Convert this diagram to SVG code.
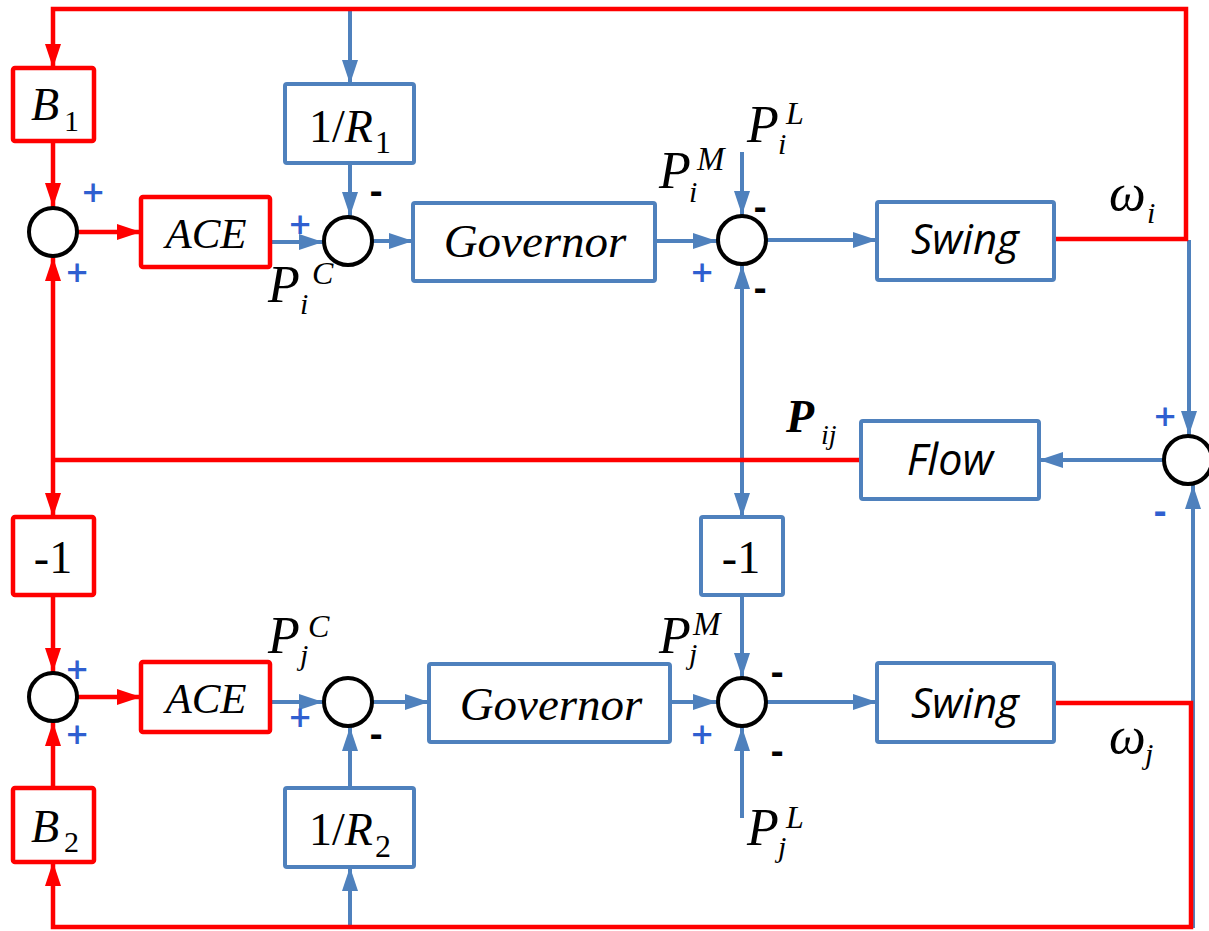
<svg xmlns="http://www.w3.org/2000/svg" width="1209" height="931" viewBox="0 0 1209 931">
<style>
.bb{fill:#fff;stroke:#4F81BD;stroke-width:4}
.rb{fill:#fff;stroke:#FF0000;stroke-width:4.5}
.sum{fill:#fff;stroke:#000;stroke-width:4}
.bl{fill:none;stroke:#4F81BD;stroke-width:4}
.rl{fill:none;stroke:#FF0000;stroke-width:4.5}
.serif{font-family:"Liberation Serif","Times New Roman",serif;fill:#000}
.it{font-style:italic}
.sans{font-family:"Open Sans","Noto Sans",sans-serif;font-style:italic;fill:#000}
.pl{font-family:"Open Sans","Liberation Sans",sans-serif;font-size:38px;font-weight:600;fill:#2F5FD0;text-anchor:middle}
.mi{font-family:"Open Sans","Liberation Sans",sans-serif;font-size:38px;font-weight:bold;fill:#000;text-anchor:middle}
.mib{font-family:"Open Sans","Liberation Sans",sans-serif;font-size:38px;font-weight:bold;fill:#2F5FD0;text-anchor:middle}
.mid{text-anchor:middle}
</style>
<defs>
<marker id="ab" markerUnits="userSpaceOnUse" markerWidth="25" markerHeight="17" refX="24" refY="8" orient="auto-start-reverse"><path d="M0,0 L24,8 L0,16 z" fill="#4F81BD"/></marker>
<marker id="ar" markerUnits="userSpaceOnUse" markerWidth="25" markerHeight="17" refX="24" refY="8" orient="auto-start-reverse"><path d="M0,0 L24,8 L0,16 z" fill="#FF0000"/></marker>
</defs>
<g id="connectors">
<path class="bl" d="M350,11 V84" marker-end="url(#ab)"/>
<path class="bl" d="M350,163 V216" marker-end="url(#ab)"/>
<path class="bl" d="M270,242 H323" marker-end="url(#ab)"/>
<path class="bl" d="M372,241 H413" marker-end="url(#ab)"/>
<path class="bl" d="M655,241 H717" marker-end="url(#ab)"/>
<path class="bl" d="M742,152 V215" marker-end="url(#ab)"/>
<path class="bl" d="M766,240 H877" marker-end="url(#ab)"/>
<path class="bl" d="M1189,240 V435" marker-end="url(#ab)"/>
<path class="bl" d="M1164,460 H1039" marker-end="url(#ab)"/>
<path class="bl" d="M742,265 V517" marker-start="url(#ab)" marker-end="url(#ab)"/>
<path class="bl" d="M742,595 V677" marker-end="url(#ab)"/>
<path class="bl" d="M270,702 H323" marker-end="url(#ab)"/>
<path class="bl" d="M372,702 H429" marker-end="url(#ab)"/>
<path class="bl" d="M670,702 H717" marker-end="url(#ab)"/>
<path class="bl" d="M766,702 H877" marker-end="url(#ab)"/>
<path class="bl" d="M742,818 V727" marker-end="url(#ab)"/>
<path class="bl" d="M350,788 V727" marker-end="url(#ab)"/>
<path class="bl" d="M350,927 V867" marker-end="url(#ab)"/>
<path class="bl" d="M1193,928 V485" marker-end="url(#ab)"/>
<path class="rl" d="M1055,239 H1186 V9 H53 V68" marker-end="url(#ar)"/>
<path class="rl" d="M53,141 V207" marker-end="url(#ar)"/>
<path class="rl" d="M78,232 H141" marker-end="url(#ar)"/>
<path class="rl" d="M861,460 H53"/>
<path class="rl" d="M53,460 V257" marker-end="url(#ar)"/>
<path class="rl" d="M53,460 V517" marker-end="url(#ar)"/>
<path class="rl" d="M53,595 V672" marker-end="url(#ar)"/>
<path class="rl" d="M78,697 H141" marker-end="url(#ar)"/>
<path class="rl" d="M1055,703 H1191 V927 H53 V862" marker-end="url(#ar)"/>
<path class="rl" d="M53,788 V722" marker-end="url(#ar)"/>
</g>
<g id="B1"><rect class="rb" x="13" y="68" width="81" height="73" rx="2"/><text class="serif it" x="31" y="120" font-size="46">B</text><text class="serif" x="64" y="131" font-size="30">1</text></g>
<g id="R1"><rect class="bb" x="285" y="84" width="129" height="79" rx="2"/><text class="serif" x="309" y="142" font-size="46">1/<tspan class="it">R</tspan></text><text class="serif" x="375" y="153" font-size="32">1</text></g>
<g id="ACE1"><rect class="rb" x="141" y="197" width="129" height="70" rx="2"/><text class="serif it mid" x="206" y="248" font-size="43">ACE</text></g>
<g id="Gov1"><rect class="bb" x="413" y="203" width="242" height="78" rx="2"/><text class="serif it mid" x="535" y="257" font-size="47">Governor</text></g>
<g id="Swing1"><rect class="bb" x="877" y="202" width="177" height="78" rx="2"/><text class="sans mid" x="965" y="254" font-size="42">Swing</text></g>
<g id="Flow"><rect class="bb" x="861" y="421" width="178" height="78" rx="2"/><text class="sans mid" x="950" y="475" font-size="43">Flow</text></g>
<g id="N1a"><rect class="rb" x="13" y="517" width="81" height="78" rx="2"/><text class="serif mid" x="53" y="573" font-size="46">-1</text></g>
<g id="N1b"><rect class="bb" x="701" y="517" width="82" height="78" rx="2"/><text class="serif mid" x="741" y="573" font-size="46">-1</text></g>
<g id="ACE2"><rect class="rb" x="141" y="662" width="129" height="70" rx="2"/><text class="serif it mid" x="206" y="713" font-size="43">ACE</text></g>
<g id="Gov2"><rect class="bb" x="429" y="664" width="241" height="78" rx="2"/><text class="serif it mid" x="551" y="720" font-size="47">Governor</text></g>
<g id="Swing2"><rect class="bb" x="877" y="663" width="177" height="79" rx="2"/><text class="sans mid" x="965" y="718" font-size="42">Swing</text></g>
<g id="B2"><rect class="rb" x="13" y="788" width="81" height="74" rx="2"/><text class="serif it" x="31" y="842" font-size="46">B</text><text class="serif" x="64" y="852" font-size="30">2</text></g>
<g id="R2"><rect class="bb" x="285" y="788" width="129" height="79" rx="2"/><text class="serif" x="309" y="845" font-size="46">1/<tspan class="it">R</tspan></text><text class="serif" x="375" y="857" font-size="32">2</text></g>
<g id="S1"><circle class="sum" cx="53" cy="232" r="24"/></g>
<g id="S2"><circle class="sum" cx="348" cy="241" r="24"/></g>
<g id="S3"><circle class="sum" cx="742" cy="240" r="24"/></g>
<g id="S4"><circle class="sum" cx="1188" cy="460" r="24"/></g>
<g id="S5"><circle class="sum" cx="53" cy="697" r="24"/></g>
<g id="S6"><circle class="sum" cx="348" cy="702" r="24"/></g>
<g id="S7"><circle class="sum" cx="742" cy="702" r="24"/></g>
<g id="signs">
<text class="pl" x="93" y="206">+</text>
<text class="pl" x="77" y="286">+</text>
<text class="pl" x="300" y="238">+</text>
<text class="mi" x="376" y="204">-</text>
<text class="mi" x="760" y="220">-</text>
<text class="pl" x="702" y="286">+</text>
<text class="mi" x="760" y="301">-</text>
<text class="pl" x="1165" y="430">+</text>
<text class="mib" x="1160" y="524">-</text>
<text class="pl" x="77" y="683">+</text>
<text class="pl" x="77" y="748">+</text>
<text class="pl" x="300" y="731">+</text>
<text class="mi" x="376" y="747">-</text>
<text class="mi" x="777" y="685">-</text>
<text class="pl" x="702" y="748">+</text>
<text class="mi" x="777" y="764">-</text>
</g>
<g id="labels" class="serif it">
<text x="268" y="302" font-size="52">P</text><text x="312" y="284" font-size="32">C</text><text x="300" y="314" font-size="30">i</text>
<text x="659" y="188" font-size="52">P</text><text x="697" y="170" font-size="33">M</text><text x="689" y="202" font-size="30">i</text>
<text x="747" y="142" font-size="52">P</text><text x="786" y="124" font-size="32">L</text><text x="778" y="154" font-size="30">i</text>
<text x="268" y="653" font-size="52">P</text><text x="308" y="637" font-size="32">C</text><text x="300" y="665" font-size="30">j</text>
<text x="659" y="653" font-size="52">P</text><text x="693" y="635" font-size="33">M</text><text x="689" y="664" font-size="30">j</text>
<text x="747" y="845" font-size="52">P</text><text x="786" y="828" font-size="32">L</text><text x="778" y="857" font-size="30">j</text>
<text x="786" y="432" font-size="46" font-weight="bold">P</text><text x="821" y="444" font-size="28">ij</text>
<text x="1109" y="210" font-size="52">ω</text><text x="1147" y="223" font-size="30">i</text>
<text x="1109" y="753" font-size="52">ω</text><text x="1145" y="764" font-size="30">j</text>
</g>
</svg>
